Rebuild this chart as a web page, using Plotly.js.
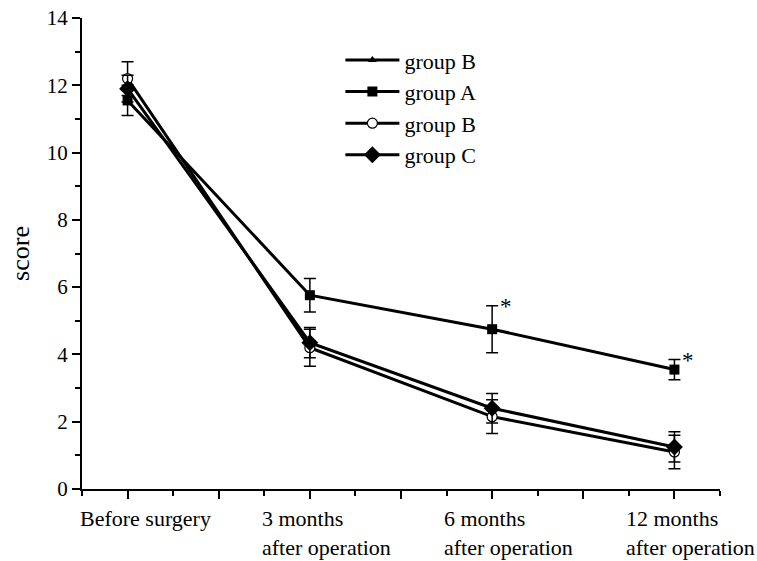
<!DOCTYPE html>
<html>
<head>
<meta charset="utf-8">
<script src="https://cdn.plot.ly/plotly-3.0.1.min.js"></script>
<style>html,body{margin:0;padding:0;background:#fff;}#chart{width:757px;height:561px;}</style>
</head>
<body>
<div id="chart"></div>
<script>
// Time points (x positions 1..4) and their labels
var timeIndex = [1, 2, 3, 4];
var timeLabels = ["Before surgery", "3 months<br>after operation", "6 months<br>after operation", "12 months<br>after operation"];

// Series values (score) and error bars
var groupA = [11.55, 5.76, 4.75, 3.55];
var groupAErr = [0.45, 0.5, 0.7, 0.3];
var groupB = [12.2, 4.2, 2.15, 1.1];
var groupBErr = [0.5, 0.55, 0.5, 0.5];
var groupC = [11.9, 4.35, 2.4, 1.25];
var groupCErr = [0.4, 0.45, 0.44, 0.45];
var strayB = [null, null, null, null];   // first legend entry has no visible data

// Significance marks for group A
var sigA = ["", "", "*", "*"];

var serif = "Liberation Serif, Times New Roman, serif";

function errObj(arr) {
  return {type: "data", array: arr, visible: true, color: "#000", thickness: 1.5, width: 6};
}

var traces = [
  {x: timeIndex, y: strayB, name: "group B", mode: "lines+markers",
   line: {color: "#000", width: 3}, marker: {symbol: "triangle-up", size: 8, color: "#000"}},
  {x: timeIndex, y: groupA, name: "group A", mode: "lines+markers",
   line: {color: "#000", width: 3}, marker: {symbol: "square", size: 10, color: "#000"},
   error_y: errObj(groupAErr)},
  {x: timeIndex, y: groupB, name: "group B", mode: "lines+markers",
   line: {color: "#000", width: 3}, marker: {symbol: "circle", size: 10, color: "#fff", line: {color: "#000", width: 1.2}},
   error_y: errObj(groupBErr)},
  {x: timeIndex, y: groupC, name: "group C", mode: "lines+markers",
   line: {color: "#000", width: 3}, marker: {symbol: "diamond", size: 13, color: "#000"},
   error_y: errObj(groupCErr)}
];

var annotations = [];
timeIndex.forEach(function (xi, i) {
  annotations.push({
    x: xi, xref: "x", y: 0, yref: "paper", yshift: -15,
    xanchor: "left", yanchor: "top", xshift: -50, align: "left",
    text: timeLabels[i], showarrow: false,
    font: {family: serif, size: 22, color: "#000"}
  });
  if (sigA[i]) {
    annotations.push({
      x: xi, xref: "x", y: groupA[i] + groupAErr[i], yref: "y",
      xanchor: "left", yanchor: "middle", xshift: 6, yshift: -1,
      text: sigA[i], showarrow: false,
      font: {family: serif, size: 23, color: "#000"}
    });
  }
});

var layout = {
  width: 757, height: 561,
  margin: {l: 82, r: 37, t: 18, b: 72},
  paper_bgcolor: "#fff", plot_bgcolor: "#fff",
  showlegend: true,
  legend: {x: 0.405, y: 0.955, xanchor: "left", yanchor: "top",
           font: {family: serif, size: 22, color: "#000"},
           bgcolor: "rgba(0,0,0,0)", itemwidth: 54, tracegroupgap: 0},
  xaxis: {range: [0.75, 4.25], tick0: 1, dtick: 0.5, showticklabels: false,
          ticks: "outside", ticklen: 8, tickwidth: 2, tickcolor: "#000",
          showline: true, linecolor: "#000", linewidth: 2, showgrid: false, zeroline: false,
          minor: {dtick: 0.25, tick0: 1, ticks: "outside", ticklen: 5, tickwidth: 2, tickcolor: "#000", showgrid: false}},
  yaxis: {range: [0, 14], tick0: 0, dtick: 2,
          ticks: "outside", ticklen: 8, tickwidth: 2, tickcolor: "#000",
          showline: true, linecolor: "#000", linewidth: 2, showgrid: false, zeroline: false,
          tickfont: {family: serif, size: 21, color: "#000"},
          title: {text: "score", font: {family: serif, size: 26, color: "#000"}, standoff: 10},
          minor: {dtick: 1, ticks: "outside", ticklen: 5, tickwidth: 2, tickcolor: "#000", showgrid: false}},
  annotations: annotations
};

Plotly.newPlot("chart", traces, layout, {displayModeBar: false, staticPlot: true});
</script>
</body>
</html>
